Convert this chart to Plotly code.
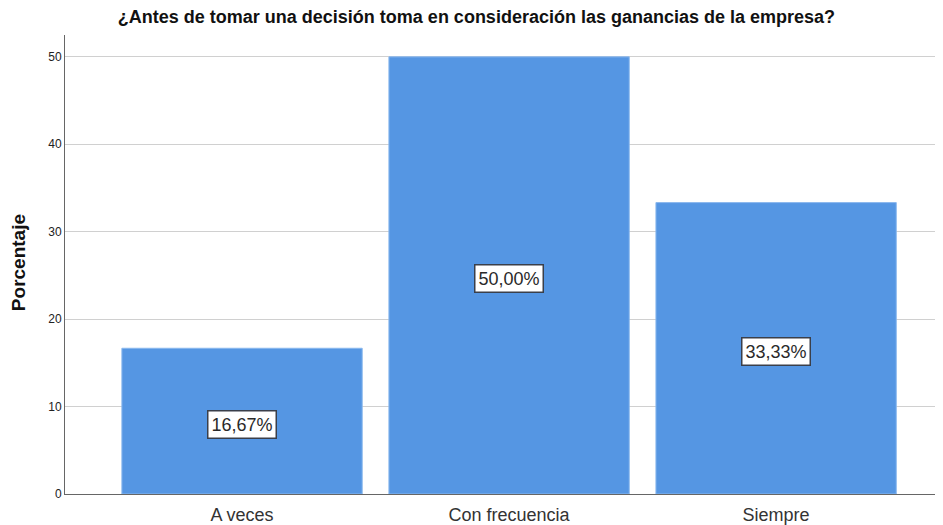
import plotly.graph_objects as go

categories = ["A veces", "Con frecuencia", "Siempre"]
percentages = [16.67, 50.00, 33.33]
y_ticks = [0, 10, 20, 30, 40, 50]
title_text = "¿Antes de tomar una decisión toma en consideración las ganancias de la empresa?"
y_title = "Porcentaje"

FONT = "Liberation Sans, Arial"

fig = go.Figure()
fig.add_trace(go.Bar(
    x=list(range(len(categories))),
    y=percentages,
    width=0.9,
    marker=dict(color="#5596E3", line=dict(color="#8AB8EE", width=1)),
    hoverinfo="skip",
))

for i, v in enumerate(percentages):
    fig.add_annotation(
        x=i, y=v / 2, xref="x", yref="y", yshift=-3,
        text=f"{v:.2f}%".replace(".", ","),
        showarrow=False,
        font=dict(family=FONT, size=18, color="#2A2A2A"),
        bgcolor="white", bordercolor="#3A3F4A", borderwidth=1.5, borderpad=3,
    )

fig.add_annotation(
    text=f"<b>{y_title}</b>", xref="paper", yref="paper",
    x=-0.0535, y=0.503, textangle=-90, showarrow=False,
    xanchor="center", yanchor="middle",
    font=dict(family=FONT, size=19, color="#111111"),
)

fig.update_layout(
    width=935, height=517,
    margin=dict(l=57, r=0, t=27, b=31, autoexpand=False),
    paper_bgcolor="white", plot_bgcolor="white",
    showlegend=False,
    title=dict(text=f"<b>{title_text}</b>", x=0.501, xanchor="center", y=0.9826, yanchor="middle",
               font=dict(family=FONT, size=18, color="#111111")),
    font=dict(family=FONT, color="#222222"),
)
fig.update_xaxes(
    range=[-0.663, 2.625],
    tickvals=list(range(len(categories))), ticktext=categories,
    tickfont=dict(size=18, color="#333333"),
    showline=True, linecolor="#666666", linewidth=1,
    showgrid=False, zeroline=False, ticks="",
    ticklabelstandoff=4, automargin=False,
)
fig.update_yaxes(
    range=[0, 52.5],
    tickvals=y_ticks,
    tickfont=dict(size=12, color="#222222"),
    showline=True, linecolor="#666666", linewidth=1,
    showgrid=True, gridcolor="#D0D0D0", gridwidth=1,
    zeroline=False, ticks="", automargin=False,
)

fig.write_html("out.html")
